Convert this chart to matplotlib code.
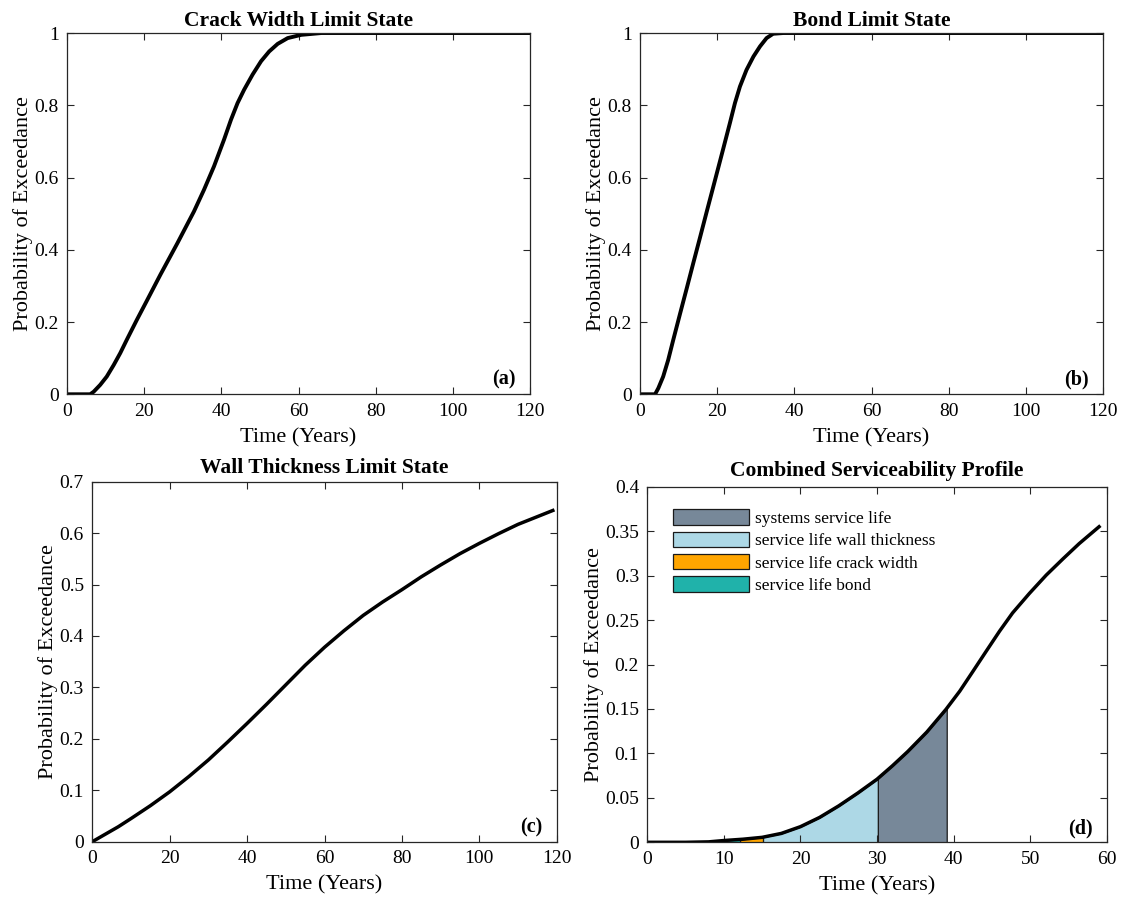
import numpy as np
import matplotlib.pyplot as plt
from matplotlib.patches import Patch

plt.rcParams['font.family'] = ['Liberation Serif', 'DejaVu Serif']

# crack width limit state
t_crack = [0, 6, 6.9, 8.6, 10.3, 12.1, 13.8, 15.5, 18.1, 20.6, 24.2, 28.6, 32.9,
           35.5, 38.1, 40.7, 42.5, 44.2, 45.9, 48.1, 50.3, 52.4, 54.6, 57.2,
           60.7, 65.9, 80, 100, 120]
p_crack = [0, 0, 0.007, 0.026, 0.049, 0.081, 0.114, 0.151, 0.206, 0.257, 0.331,
           0.418, 0.506, 0.566, 0.631, 0.705, 0.76, 0.806, 0.843, 0.885, 0.922,
           0.949, 0.97, 0.986, 0.995, 1, 1, 1, 1]

# bond limit state
t_bond = [0, 3.9, 4.75, 6.0, 7.3, 8.6, 10.4, 12.1, 13.8, 15.5, 17.3, 19.0, 20.3,
          21.6, 23.3, 24.6, 25.9, 27.6, 29.4, 31.1, 32.8, 34.5, 37.1, 60, 80,
          100, 120]
p_bond = [0, 0, 0.017, 0.049, 0.095, 0.15, 0.224, 0.293, 0.363, 0.432, 0.506,
          0.575, 0.628, 0.681, 0.751, 0.806, 0.852, 0.898, 0.935, 0.963, 0.986,
          0.998, 1, 1, 1, 1, 1]

# wall thickness limit state
t_wall = [0, 3, 6.7, 10, 15, 20, 25, 30, 35, 40, 45, 50, 55, 60, 65, 70, 75, 80,
          85, 90, 95, 100, 105, 110, 115, 119]
p_wall = [0, 0.013, 0.029, 0.045, 0.07, 0.097, 0.127, 0.159, 0.194, 0.23, 0.267,
          0.305, 0.343, 0.378, 0.41, 0.44, 0.466, 0.49, 0.515, 0.538, 0.56, 0.58,
          0.599, 0.617, 0.632, 0.644]

# combined serviceability profile
t_sys = [0, 5, 8, 10, 12.5, 15, 17.5, 20, 22.5, 25, 27.5, 30, 32, 34, 36.5, 39,
         40.8, 42.5, 44.3, 46, 47.7, 49.9, 52.1, 54.3, 56.4, 59]
p_sys = [0, 0, 0.0005, 0.002, 0.0035, 0.0056, 0.01, 0.0176, 0.028, 0.041, 0.0555,
         0.071, 0.086, 0.102, 0.124, 0.1495, 0.170, 0.192, 0.2155, 0.2375, 0.258,
         0.28, 0.3006, 0.319, 0.336, 0.355]

# service life intervals (years) shaded under the combined curve
life_labels = ['systems service life', 'service life wall thickness',
               'service life crack width', 'service life bond']
life_colors = ['#778899', '#add8e6', '#ffa500', '#20b2aa']
life_start = [30.1, 15.1, 12.1, 10.3]
life_end = [39.1, 30.1, 15.1, 12.1]

AX_COLOR = '#262626'


def style_axes(ax, xticks, yticks, ylabels):
    ax.set_xticks(xticks)
    ax.set_yticks(yticks)
    ax.set_yticklabels(ylabels)
    ax.tick_params(direction='in', length=5, width=0.8, top=True, right=True,
                   labelsize=14, colors=AX_COLOR, labelcolor='black', pad=6)
    for s in ax.spines.values():
        s.set_color(AX_COLOR)
        s.set_linewidth(0.9)
    ax.set_xlabel('Time (Years)', fontsize=16, labelpad=6)
    ax.set_ylabel('Probability of Exceedance', fontsize=16, labelpad=1)


def panel_tag(ax, tag):
    ax.text(0.97, 0.012, tag, transform=ax.transAxes, ha='right', va='bottom',
            fontsize=14.5, fontweight='bold')


fig = plt.figure(figsize=(11.26, 9), dpi=100)

ax1 = fig.add_axes([0.0595, 0.5619, 0.4112, 0.4014])
ax1.plot(t_crack, p_crack, color='black', lw=2.8, solid_joinstyle='round')
ax1.set_xlim(0, 120)
ax1.set_ylim(0, 1)
style_axes(ax1, range(0, 121, 20), np.arange(0, 1.01, 0.2),
           ['0', '0.2', '0.4', '0.6', '0.8', '1'])
ax1.set_title('Crack Width Limit State', fontsize=15.5, fontweight='bold', pad=5)
panel_tag(ax1, '(a)')

ax2 = fig.add_axes([0.5684, 0.5619, 0.4112, 0.4014])
ax2.plot(t_bond, p_bond, color='black', lw=2.8, solid_joinstyle='round')
ax2.set_xlim(0, 120)
ax2.set_ylim(0, 1)
style_axes(ax2, range(0, 121, 20), np.arange(0, 1.01, 0.2),
           ['0', '0.2', '0.4', '0.6', '0.8', '1'])
ax2.set_title('Bond Limit State', fontsize=15.5, fontweight='bold', pad=5)
panel_tag(ax2, '(b)')

ax3 = fig.add_axes([0.0820, 0.0648, 0.4124, 0.4000])
ax3.plot(t_wall, p_wall, color='black', lw=2.5, solid_joinstyle='round')
ax3.set_xlim(0, 120)
ax3.set_ylim(0, 0.7)
style_axes(ax3, range(0, 121, 20), np.arange(0, 0.71, 0.1),
           ['0', '0.1', '0.2', '0.3', '0.4', '0.5', '0.6', '0.7'])
ax3.set_title('Wall Thickness Limit State', fontsize=15.5, fontweight='bold', pad=6)
panel_tag(ax3, '(c)')

ax4 = fig.add_axes([0.5749, 0.0641, 0.4080, 0.3951])
t_arr = np.array(t_sys)
p_arr = np.array(p_sys)
for lab, col, a, b in zip(life_labels, life_colors, life_start, life_end):
    inside = (t_arr > a) & (t_arr < b)
    tx = np.concatenate([[a], t_arr[inside], [b]])
    py = np.concatenate([[np.interp(a, t_arr, p_arr)], p_arr[inside],
                         [np.interp(b, t_arr, p_arr)]])
    ax4.fill_between(tx, 0, py, facecolor=col, edgecolor='#1a1a1a', lw=0.9,
                     label=lab)
ax4.plot(t_sys, p_sys, color='black', lw=2.5, solid_joinstyle='round')
ax4.set_xlim(0, 60)
ax4.set_ylim(0, 0.4)
style_axes(ax4, range(0, 61, 10), np.arange(0, 0.401, 0.05),
           ['0', '0.05', '0.1', '0.15', '0.2', '0.25', '0.3', '0.35', '0.4'])
ax4.set_title('Combined Serviceability Profile', fontsize=15.5, fontweight='bold',
              pad=8)
panel_tag(ax4, '(d)')

handles = [Patch(facecolor=c, edgecolor='#1a1a1a', lw=0.9) for c in life_colors]
ax4.legend(handles, life_labels, loc='upper left', bbox_to_anchor=(0.055, 0.937),
           frameon=False, fontsize=12.5, handlelength=4.4, handleheight=1.0,
           handletextpad=0.35, labelspacing=0.27, borderaxespad=0, borderpad=0)

fig.savefig('out.png', dpi=100)
